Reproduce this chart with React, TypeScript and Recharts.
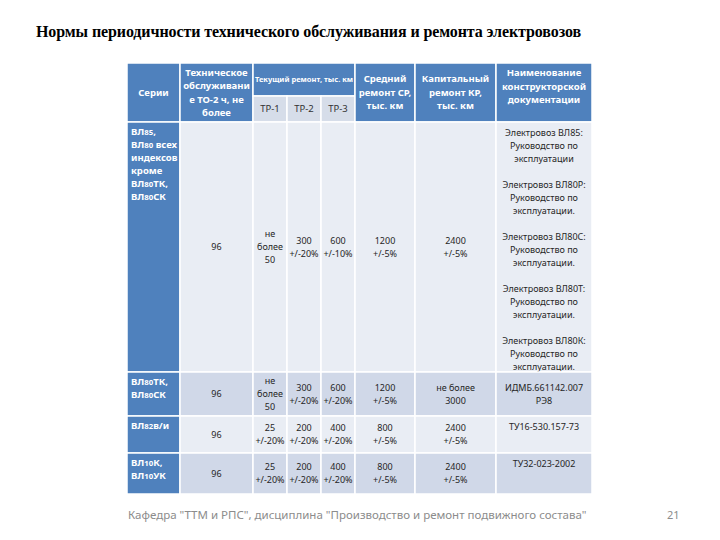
import React from "react";
import { ComposedChart, XAxis, YAxis, ReferenceArea } from "recharts";

// header texts
const headerSeries = ["Серии"];
const headerTo2 = ["Техническое", "обслуживани", "е ТО-2 ч, не", "более"];
const headerCurrent = ["Текущий ремонт, тыс. км"];
const headerTr = [["ТР-1"], ["ТР-2"], ["ТР-3"]];
const headerSr = ["Средний", "ремонт СР,", "тыс. км"];
const headerKr = ["Капитальный", "ремонт КР,", "тыс. км"];
const headerDocs = ["Наименование", "конструкторской", "документации"];

// body values, one entry per row
const seriesNames = [
  ["ВЛ85,", "ВЛ80 всех", "индексов", "кроме", "ВЛ80ТК,", "ВЛ80СК"],
  ["ВЛ80ТК,", "ВЛ80СК"],
  ["ВЛ82в/и"],
  ["ВЛ10К,", "ВЛ10УК"],
];
const to2Hours = [["96"], ["96"], ["96"], ["96"]];
const tr1Km = [["не", "более", "50"], ["не", "более", "50"], ["25", "+/-20%"], ["25", "+/-20%"]];
const tr2Km = [["300", "+/-20%"], ["300", "+/-20%"], ["200", "+/-20%"], ["200", "+/-20%"]];
const tr3Km = [["600", "+/-10%"], ["600", "+/-20%"], ["400", "+/-20%"], ["400", "+/-20%"]];
const srKm = [["1200", "+/-5%"], ["1200", "+/-5%"], ["800", "+/-5%"], ["800", "+/-5%"]];
const krKm = [["2400", "+/-5%"], ["не более", "3000"], ["2400", "+/-5%"], ["2400", "+/-5%"]];
const docsNames = [
  [
    "Электровоз ВЛ85:", "Руководство по", "эксплуатации", "",
    "Электровоз ВЛ80Р:", "Руководство по", "эксплуатации.", "",
    "Электровоз ВЛ80С:", "Руководство по", "эксплуатации.", "",
    "Электровоз ВЛ80Т:", "Руководство по", "эксплуатации.", "",
    "Электровоз ВЛ80К:", "Руководство по", "эксплуатации.",
  ],
  ["ИДМБ.661142.007", "РЭ8"],
  ["ТУ16-530.157-73"],
  ["ТУ32-023-2002"],
];

const titleText = "Нормы периодичности технического обслуживания и ремонта электровозов";
const footerText = "Кафедра \"ТТМ и РПС\", дисциплина \"Производство и ремонт подвижного состава\"";
const pageNo = "21";

// layout
const COLS = [127, 180, 253, 287, 321, 355, 415, 496, 592];
const HEAD_TOP = 63;
const HEAD_SPLIT = 96;
const ROWS = [122, 372, 416, 453, 494];

const BLUE = "#4f81bd";
const LIGHT = "#e9edf4";
const DARK = "#d0d8e8";
const SUB = "#d6dde9";
const FONT = "'Noto Sans', 'Open Sans', sans-serif";

type Opts = {
  align?: "center" | "left";
  valign?: "middle" | "top";
  size?: number;
  lh?: number;
  color?: string;
  bold?: boolean;
  pad?: number;
  shift?: number;
  small?: boolean;
};

function withSmallDigits(s: string, size: number) {
  const parts = s.split(/(\d+)/).filter((p) => p !== "");
  return parts.map((p, i) =>
    /^\d+$/.test(p) ? (
      <tspan key={i} fontSize={size * 0.82}>{p}</tspan>
    ) : (
      <tspan key={i}>{p}</tspan>
    )
  );
}

function cellText(lines: string[], o: Opts) {
  const size = o.size ?? 9;
  const lh = o.lh ?? 13;
  return (props: any) => {
    const vb = props.viewBox || {};
    const { x, y, width, height } = vb;
    const n = lines.length;
    const y0 =
      o.valign === "top"
        ? y + (o.pad ?? 10)
        : y + height / 2 - ((n - 1) * lh) / 2 + (o.shift ?? 0);
    const tx = o.align === "left" ? x + 4 : x + width / 2;
    return (
      <text
        fontFamily={FONT}
        fontSize={size}
        fontWeight={o.bold ? 700 : 400}
        fill={o.color ?? "#262626"}
        textAnchor={o.align === "left" ? "start" : "middle"}
      >
        {lines.map((l, i) => (
          <tspan key={i} x={tx} y={y0 + i * lh} dy="0.35em">
            {o.small ? withSmallDigits(l, size) : l}
          </tspan>
        ))}
      </text>
    );
  };
}

type Cell = { x1: number; x2: number; y1: number; y2: number; fill: string; lines: string[]; o: Opts };

function buildCells(): Cell[] {
  const cells: Cell[] = [];
  const hw: Opts = { color: "#fff", bold: true, size: 9.5, lh: 13.5 };
  cells.push({ x1: COLS[0], x2: COLS[1], y1: HEAD_TOP, y2: ROWS[0], fill: BLUE, lines: headerSeries, o: hw });
  cells.push({ x1: COLS[1], x2: COLS[2], y1: HEAD_TOP, y2: ROWS[0], fill: BLUE, lines: headerTo2, o: hw });
  cells.push({ x1: COLS[2], x2: COLS[5], y1: HEAD_TOP, y2: HEAD_SPLIT, fill: BLUE, lines: headerCurrent, o: { ...hw, size: 7.5 } });
  headerTr.forEach((t, i) =>
    cells.push({ x1: COLS[2 + i], x2: COLS[3 + i], y1: HEAD_SPLIT, y2: ROWS[0], fill: SUB, lines: t, o: { size: 9.5, color: "#333" } })
  );
  cells.push({ x1: COLS[5], x2: COLS[6], y1: HEAD_TOP, y2: ROWS[0], fill: BLUE, lines: headerSr, o: hw });
  cells.push({ x1: COLS[6], x2: COLS[7], y1: HEAD_TOP, y2: ROWS[0], fill: BLUE, lines: headerKr, o: hw });
  cells.push({ x1: COLS[7], x2: COLS[8], y1: HEAD_TOP, y2: ROWS[0], fill: BLUE, lines: headerDocs, o: { ...hw, shift: -6 } });

  const body = [to2Hours, tr1Km, tr2Km, tr3Km, srKm, krKm];
  seriesNames.forEach((name, r) => {
    const y1 = ROWS[r];
    const y2 = ROWS[r + 1];
    const fill = r % 2 === 0 ? LIGHT : DARK;
    cells.push({
      x1: COLS[0], x2: COLS[1], y1, y2, fill: BLUE, lines: name,
      o: { align: "left", valign: "top", color: "#fff", bold: true, size: 9.5, pad: 10, small: true },
    });
    body.forEach((col, c) => {
      cells.push({ x1: COLS[1 + c], x2: COLS[2 + c], y1, y2, fill, lines: col[r], o: {} });
    });
    cells.push({
      x1: COLS[7], x2: COLS[8], y1, y2, fill, lines: docsNames[r],
      o: r === 1 ? {} : { valign: "top", pad: 11 },
    });
  });
  return cells;
}

const cells = buildCells();
const frame = [{ x: 0, y: 0 }, { x: 720, y: 540 }];

export default function App() {
  return (
    <div style={{ position: "absolute", left: 0, top: 0, width: 720, height: 540, background: "#fff" }}>
      <div
        style={{
          position: "absolute", left: 36, top: 23, fontFamily: "'Liberation Serif', serif",
          fontWeight: 700, fontSize: 16, letterSpacing: -0.1, color: "#000", whiteSpace: "nowrap",
        }}
      >
        {titleText}
      </div>
      <ComposedChart width={720} height={540} data={frame} margin={{ top: 0, right: 0, bottom: 0, left: 0 }}>
        <XAxis type="number" dataKey="x" domain={[0, 720]} hide allowDataOverflow />
        <YAxis type="number" dataKey="y" domain={[0, 540]} reversed hide allowDataOverflow />
        {cells.map((c, i) => (
          <ReferenceArea
            key={i}
            x1={c.x1}
            x2={c.x2}
            y1={c.y1}
            y2={c.y2}
            fill={c.fill}
            fillOpacity={1}
            stroke="#ffffff"
            strokeWidth={1.5}
            ifOverflow="visible"
            label={cellText(c.lines, c.o)}
          />
        ))}
      </ComposedChart>
      <div
        style={{
          position: "absolute", left: 128, top: 507, fontFamily: FONT, fontSize: 11.5,
          color: "#8c8c8c", whiteSpace: "nowrap",
        }}
      >
        {footerText}
      </div>
      <div
        style={{ position: "absolute", left: 667, top: 507, fontFamily: FONT, fontSize: 11, color: "#8c8c8c" }}
      >
        {pageNo}
      </div>
    </div>
  );
}
